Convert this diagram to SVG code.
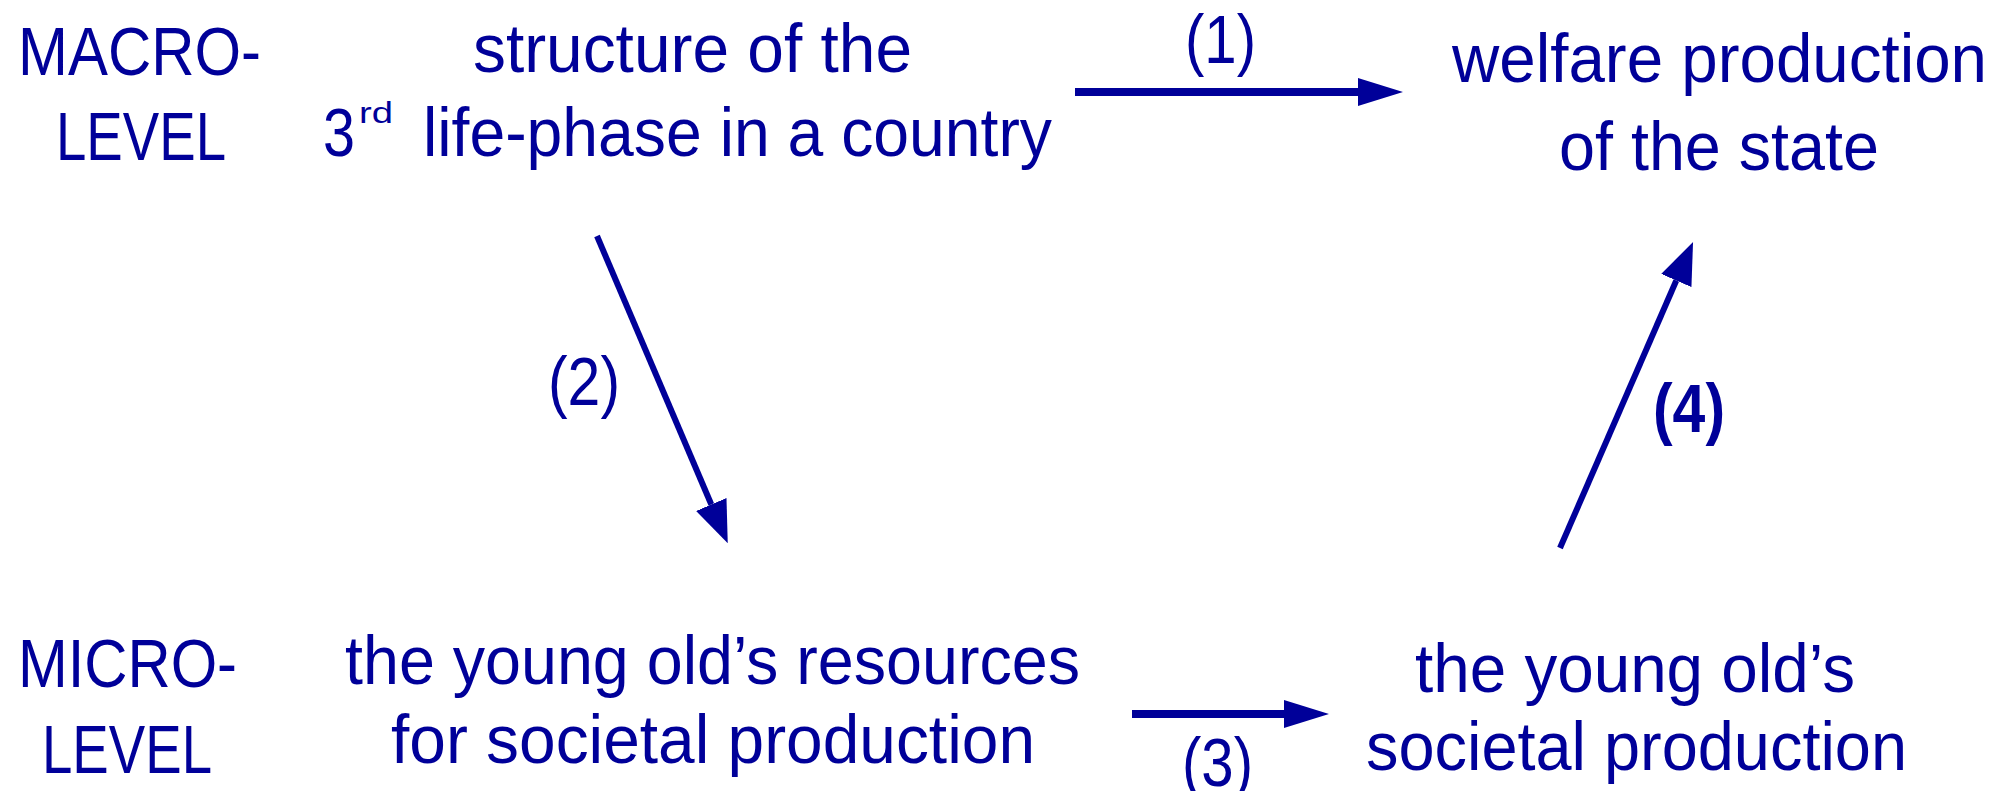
<svg xmlns="http://www.w3.org/2000/svg" width="2013" height="791" viewBox="0 0 2013 791">
<style>
text{font-family:"Liberation Sans",Arial,sans-serif;font-size:68px;fill:#000099;}
.sup{font-size:30px;}
.b{font-weight:bold;}
.c{stroke:#000099;fill:none;}
</style>
<defs>
<marker id="hs" viewBox="0 0 45 28" markerWidth="45" markerHeight="28" refX="0" refY="14" orient="auto" markerUnits="userSpaceOnUse"><path d="M0,0 L45,14 L0,28 z" fill="#000099"/></marker>
<marker id="hd" viewBox="0 0 42 33" markerWidth="42" markerHeight="33" refX="0" refY="16.5" orient="auto" markerUnits="userSpaceOnUse"><path d="M0,0 L42,16.5 L0,33 z" fill="#000099"/></marker>
</defs>
<rect width="2013" height="791" fill="#ffffff"/>
<g id="levels">
<text x="18" y="75" textLength="243" lengthAdjust="spacingAndGlyphs">MACRO-</text>
<text x="56" y="160" textLength="170" lengthAdjust="spacingAndGlyphs">LEVEL</text>
<text x="18" y="687" textLength="219" lengthAdjust="spacingAndGlyphs">MICRO-</text>
<text x="42" y="773" textLength="170" lengthAdjust="spacingAndGlyphs">LEVEL</text>
</g>
<g id="node-structure">
<text x="473" y="72" textLength="439" lengthAdjust="spacingAndGlyphs">structure of the</text>
<text y="156"><tspan x="323" textLength="32" lengthAdjust="spacingAndGlyphs">3</tspan><tspan class="sup" x="359" y="123" textLength="34" lengthAdjust="spacingAndGlyphs">rd</tspan><tspan x="423" y="156" textLength="629" lengthAdjust="spacingAndGlyphs">life-phase in a country</tspan></text>
</g>
<g id="node-welfare">
<text x="1452" y="82" textLength="535" lengthAdjust="spacingAndGlyphs">welfare production</text>
<text x="1559" y="170" textLength="320" lengthAdjust="spacingAndGlyphs">of the state</text>
</g>
<g id="node-resources">
<text x="345" y="684" textLength="735" lengthAdjust="spacingAndGlyphs">the young old’s resources</text>
<text x="391" y="763" textLength="644" lengthAdjust="spacingAndGlyphs">for societal production</text>
</g>
<g id="node-societal">
<text x="1415" y="692" textLength="440" lengthAdjust="spacingAndGlyphs">the young old’s</text>
<text x="1366" y="770" textLength="541" lengthAdjust="spacingAndGlyphs">societal production</text>
</g>
<g id="connectors">
<line class="c" x1="1075" y1="92" x2="1358" y2="92" stroke-width="8" marker-end="url(#hs)"/>
<line class="c" x1="597" y1="236" x2="711.3" y2="504.5" stroke-width="6" marker-end="url(#hd)"/>
<line class="c" x1="1132" y1="714" x2="1284" y2="714" stroke-width="8" marker-end="url(#hs)"/>
<line class="c" x1="1560" y1="548" x2="1676.3" y2="280.5" stroke-width="6" marker-end="url(#hd)"/>
<text x="1185" y="63" textLength="71" lengthAdjust="spacingAndGlyphs">(1)</text>
<text x="548" y="405" textLength="72" lengthAdjust="spacingAndGlyphs">(2)</text>
<text x="1182" y="786" textLength="71" lengthAdjust="spacingAndGlyphs">(3)</text>
<text class="b" x="1653" y="432" textLength="72" lengthAdjust="spacingAndGlyphs">(4)</text>
</g>
</svg>
